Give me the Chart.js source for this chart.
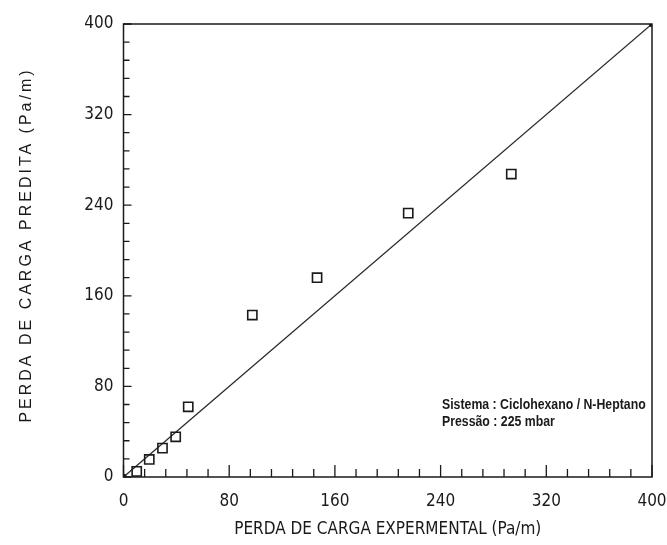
<!DOCTYPE html>
<html>
<head>
<meta charset="utf-8">
<title>Perda de carga predita x experimental</title>
<script src="https://cdn.jsdelivr.net/npm/chart.js@4/dist/chart.umd.min.js"></script>
<style>
  html, body { margin: 0; padding: 0; background: #ffffff; }
  canvas { display: block; }
</style>
</head>
<body>
<canvas id="chart" width="667" height="545"></canvas>
<script>
// Measured pressure drop vs. predicted pressure drop (Pa/m)
const experimental = [10, 19.5, 29.5, 39.5, 49, 97.5, 146.5, 215.5, 293.5];
const predicted = [5, 15.5, 25.5, 35.5, 62, 143, 176, 233, 267.5];

// y = x reference line
const diagonalX = [0, 400];
const diagonalY = [0, 400];

const axisMin = 0;
const axisMax = 400;
const majorStep = 80;
const minorStep = 16;

const notes = ['Sistema : Ciclohexano / N-Heptano', 'Pressão : 225 mbar'];
const xTitle = 'PERDA DE CARGA EXPERMENTAL (Pa/m)';
const yTitle = 'PERDA DE CARGA PREDITA (Pa/m)';

const ink = '#1a1a1a';
const condensed = '"DejaVu Sans Condensed", "DejaVu Sans", sans-serif';

// frame, inward tick marks, rotated y title and the text box
const framePlugin = {
  id: 'framePlugin',
  afterDraw(chart) {
    const ctx = chart.ctx;
    const area = chart.chartArea;
    const xs = chart.scales.x;
    const ys = chart.scales.y;

    ctx.save();
    ctx.strokeStyle = ink;
    ctx.lineWidth = 1.5;
    ctx.strokeRect(area.left, area.top, area.right - area.left, area.bottom - area.top);

    ctx.lineWidth = 1.3;
    ctx.beginPath();
    for (let v = axisMin; v <= axisMax; v += minorStep) {
      const px = xs.getPixelForValue(v);
      const len = v % majorStep === 0 ? 12 : 8;
      ctx.moveTo(px, area.bottom);
      ctx.lineTo(px, area.bottom - len);

      const py = ys.getPixelForValue(v);
      const ylen = v % majorStep === 0 ? 8 : 6;
      ctx.moveTo(area.left, py);
      ctx.lineTo(area.left + ylen, py);
    }
    ctx.stroke();

    // y axis title, widely spaced capitals
    ctx.fillStyle = ink;
    ctx.font = '16px "Liberation Sans", Arial, sans-serif';
    ctx.letterSpacing = '3px';
    ctx.textAlign = 'center';
    ctx.textBaseline = 'middle';
    ctx.translate(27, 245);
    ctx.rotate(-Math.PI / 2);
    ctx.fillText(yTitle, 0, 0);
    ctx.restore();

    // system note, squeezed bold lettering
    ctx.save();
    ctx.fillStyle = ink;
    ctx.font = 'bold 15px "Liberation Sans", Arial, sans-serif';
    ctx.textAlign = 'left';
    ctx.textBaseline = 'middle';
    ctx.translate(442, 0);
    ctx.scale(0.82, 1);
    ctx.fillText(notes[0], 0, 405);
    ctx.fillText(notes[1], 0, 422);
    ctx.restore();
  }
};

const ctx = document.getElementById('chart').getContext('2d');

new Chart(ctx, {
  type: 'scatter',
  data: {
    datasets: [
      {
        label: 'Pontos',
        data: experimental.map((x, i) => ({ x: x, y: predicted[i] })),
        pointStyle: 'rect',
        pointRadius: 6.5,
        pointBorderWidth: 1.6,
        pointBorderColor: ink,
        pointBackgroundColor: 'rgba(0,0,0,0)',
        showLine: false
      },
      {
        label: 'y = x',
        type: 'line',
        data: diagonalX.map((x, i) => ({ x: x, y: diagonalY[i] })),
        borderColor: '#2a2a2a',
        borderWidth: 1.3,
        pointRadius: 2.5,
        pointBackgroundColor: ink,
        pointBorderColor: ink,
        fill: false
      }
    ]
  },
  options: {
    responsive: false,
    animation: false,
    layout: { padding: { top: 24, right: 15, left: 0, bottom: 0 } },
    plugins: {
      legend: { display: false },
      tooltip: { enabled: false }
    },
    scales: {
      x: {
        type: 'linear',
        min: axisMin,
        max: axisMax,
        afterFit: scale => {
          scale.height = 68;
          scale.paddingLeft = 0;
          scale.paddingRight = 0;
        },
        grid: { display: false },
        border: { display: false },
        ticks: {
          stepSize: majorStep,
          padding: 6,
          color: ink,
          maxRotation: 0,
          font: { family: condensed, size: 17 }
        },
        title: {
          display: true,
          text: xTitle,
          color: ink,
          padding: { top: 0, bottom: 5 },
          font: { family: condensed, size: 17 }
        }
      },
      y: {
        type: 'linear',
        min: axisMin,
        max: axisMax,
        afterFit: scale => {
          scale.width = 123.5;
          scale.paddingTop = 0;
          scale.paddingBottom = 0;
        },
        grid: { display: false },
        border: { display: false },
        ticks: {
          stepSize: majorStep,
          padding: 2,
          color: ink,
          font: { family: condensed, size: 17 }
        }
      }
    }
  },
  plugins: [framePlugin]
});
</script>
</body>
</html>
